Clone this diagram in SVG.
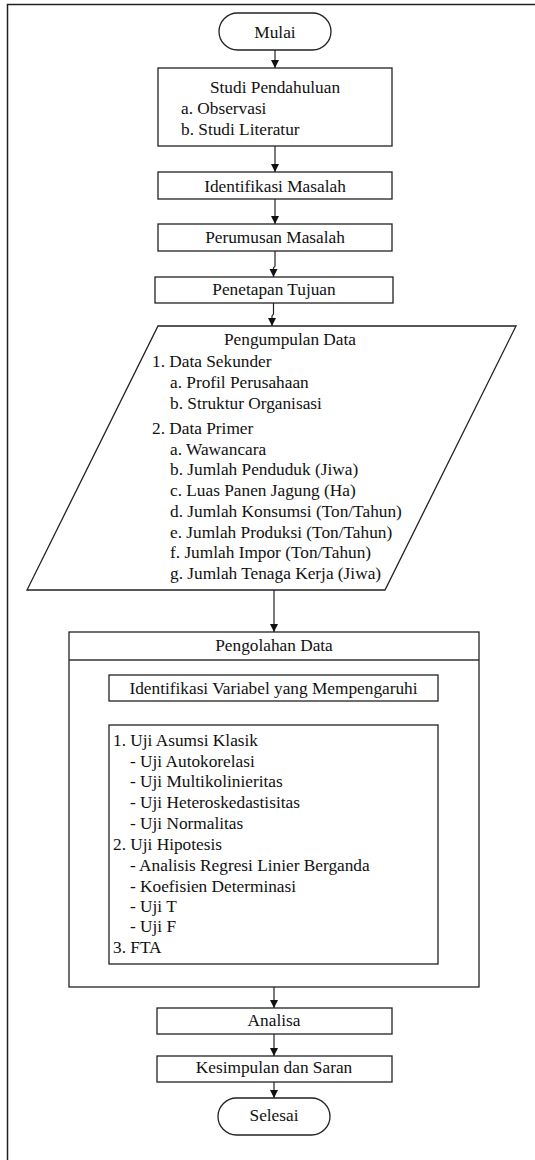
<svg xmlns="http://www.w3.org/2000/svg" width="535" height="1160" viewBox="0 0 535 1160" font-family="Liberation Serif, serif">
<style>
.t{font-size:17.3px;fill:#111}
.c{text-anchor:middle}
.b{fill:#fff;stroke:#222;stroke-width:1.3}
.l{fill:none;stroke:#222;stroke-width:1.2}
</style>
<defs>
<marker id="ah" markerUnits="userSpaceOnUse" markerWidth="10" markerHeight="10" viewBox="0 0 10 10" refX="9" refY="5" orient="auto">
<path d="M1,1 L9,5 L1,9 Z" fill="#111"/>
</marker>
</defs>
<rect width="535" height="1160" fill="#fff"/>
<g id="frame">
<path d="M7.5,1160 V4.5 H535" fill="none" stroke="#222" stroke-width="1.5"/>
</g>
<g id="connectors">
<line class="l" x1="275" y1="50" x2="275" y2="68" marker-end="url(#ah)"/>
<line class="l" x1="275" y1="146" x2="275" y2="172" marker-end="url(#ah)"/>
<line class="l" x1="275" y1="199" x2="275" y2="224" marker-end="url(#ah)"/>
<path class="l" d="M275,251 V266 L273.5,268 V277" marker-end="url(#ah)"/>
<path class="l" d="M273.5,303 V314 L272,316 V326" marker-end="url(#ah)"/>
<line class="l" x1="274" y1="590" x2="274" y2="632" marker-end="url(#ah)"/>
<line class="l" x1="274" y1="701" x2="274" y2="725" marker-end="url(#ah)"/>
<line class="l" x1="274" y1="987" x2="274" y2="1008" marker-end="url(#ah)"/>
<line class="l" x1="274" y1="1034" x2="274" y2="1056" marker-end="url(#ah)"/>
<line class="l" x1="274" y1="1082" x2="274" y2="1098" marker-end="url(#ah)"/>
</g>
<g id="mulai">
<rect class="b" x="219" y="13" width="112" height="37" rx="18.5"/>
<text class="t c" x="275" y="37.5">Mulai</text>
</g>
<g id="studi">
<rect class="b" x="158" y="68" width="234" height="78"/>
<text class="t c" x="275" y="93">Studi Pendahuluan</text>
<text class="t" x="181" y="114">a. Observasi</text>
<text class="t" x="181" y="135">b. Studi Literatur</text>
</g>
<g id="identifikasi">
<rect class="b" x="158" y="172" width="234" height="27"/>
<text class="t c" x="275" y="192">Identifikasi Masalah</text>
</g>
<g id="perumusan">
<rect class="b" x="158" y="224" width="234" height="27"/>
<text class="t c" x="275" y="243">Perumusan Masalah</text>
</g>
<g id="penetapan">
<rect class="b" x="155" y="277" width="238" height="26"/>
<text class="t c" x="274" y="295">Penetapan Tujuan</text>
</g>
<g id="pengumpulan">
<polygon class="b" points="158,326 516,326 385,590 27,590"/>
<text class="t c" x="290" y="345">Pengumpulan Data</text>
<text class="t" x="152" y="366.5">1. Data Sekunder</text>
<text class="t" x="170" y="388">a. Profil Perusahaan</text>
<text class="t" x="170" y="409">b. Struktur Organisasi</text>
<text class="t" x="152" y="434">2. Data Primer</text>
<text class="t" x="170" y="454.5">a. Wawancara</text>
<text class="t" x="170" y="475">b. Jumlah Penduduk (Jiwa)</text>
<text class="t" x="170" y="496">c. Luas Panen Jagung (Ha)</text>
<text class="t" x="170" y="517">d. Jumlah Konsumsi (Ton/Tahun)</text>
<text class="t" x="170" y="537.5">e. Jumlah Produksi (Ton/Tahun)</text>
<text class="t" x="170" y="558">f. Jumlah Impor (Ton/Tahun)</text>
<text class="t" x="170" y="578.5">g. Jumlah Tenaga Kerja (Jiwa)</text>
</g>
<g id="pengolahan">
<rect class="b" x="69" y="632" width="410" height="355" stroke="#444" stroke-width="1.6"/>
<line x1="69" y1="660" x2="479" y2="660" stroke="#333" stroke-width="1.3"/>
<text class="t c" x="274" y="651">Pengolahan Data</text>
</g>
<g id="identifikasi-variabel">
<rect class="b" x="109" y="675" width="329" height="26"/>
<text class="t c" x="273.5" y="694">Identifikasi Variabel yang Mempengaruhi</text>
</g>
<g id="uji">
<rect class="b" x="109" y="725" width="329" height="239"/>
<text class="t" x="113" y="746">1. Uji Asumsi Klasik</text>
<text class="t" x="130" y="766.7">- Uji Autokorelasi</text>
<text class="t" x="130" y="787">- Uji Multikolinieritas</text>
<text class="t" x="130" y="807.5">- Uji Heteroskedastisitas</text>
<text class="t" x="130" y="828.5">- Uji Normalitas</text>
<text class="t" x="113" y="849.5">2. Uji Hipotesis</text>
<text class="t" x="130" y="870.5">- Analisis Regresi Linier Berganda</text>
<text class="t" x="130" y="891.5">- Koefisien Determinasi</text>
<text class="t" x="130" y="911.7">- Uji T</text>
<text class="t" x="130" y="932">- Uji F</text>
<text class="t" x="113" y="953">3. FTA</text>
</g>
<g id="analisa">
<rect class="b" x="157" y="1008" width="235" height="26"/>
<text class="t c" x="274" y="1025.5">Analisa</text>
</g>
<g id="kesimpulan">
<rect class="b" x="157" y="1056" width="235" height="26"/>
<text class="t c" x="274" y="1073">Kesimpulan dan Saran</text>
</g>
<g id="selesai">
<rect class="b" x="218" y="1098" width="112" height="37" rx="18.5"/>
<text class="t c" x="274" y="1121">Selesai</text>
</g>
</svg>
